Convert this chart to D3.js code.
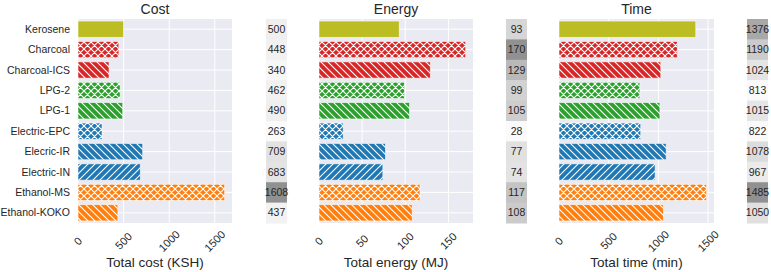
<!DOCTYPE html>
<html>
<head>
<meta charset="utf-8">
<script src="https://cdn.jsdelivr.net/npm/d3@7"></script>
<style>
body { margin: 0; background: #fff; }
text { font-family: "Liberation Sans", Arial, sans-serif; fill: #262626; }
</style>
</head>
<body>
<div id="chart"></div>
<script>
var width = 771;
var height = 272;

// data
var categories = ["Kerosene", "Charcoal", "Charcoal-ICS", "LPG-2", "LPG-1",
    "Electric-EPC", "Elecric-IR", "Electric-IN", "Ethanol-MS", "Ethanol-KOKO"];
var costValues = [500, 448, 340, 462, 490, 263, 709, 683, 1608, 437];
var energyValues = [93, 170, 129, 99, 105, 28, 77, 74, 117, 108];
var timeValues = [1376, 1190, 1024, 813, 1015, 822, 1078, 967, 1485, 1050];
var barColors = ["#bcbd22", "#d62728", "#d62728", "#2ca02c", "#2ca02c",
    "#1f77b4", "#1f77b4", "#1f77b4", "#ff7f0e", "#ff7f0e"];
var hatches = ["", "cross", "back", "cross", "back", "cross", "back", "fwd", "cross", "back"];
var costTicks = [0, 500, 1000, 1500];
var energyTicks = [0, 50, 100, 150];
var timeTicks = [0, 500, 1000, 1500];

var panels = [
    {title: "Cost", label: "Total cost (KSH)", values: costValues, ticks: costTicks, x0: 78, x1: 232, hx: 266},
    {title: "Energy", label: "Total energy (MJ)", values: energyValues, ticks: energyTicks, x0: 319, x1: 473, hx: 506},
    {title: "Time", label: "Total time (min)", values: timeValues, ticks: timeTicks, x0: 559, x1: 714, hx: 747}
];
var plotTop = 19, plotBottom = 223, heatW = 21;

var svg = d3.select("#chart").append("svg")
    .attr("width", width)
    .attr("height", height);

// hatch patterns (white lines over the bar colour)
var defs = svg.append("defs");
var hatchPaths = {
    back: "M0,0L7,7M-1,6L1,8M6,-1L8,1",
    fwd: "M0,7L7,0M-1,1L1,-1M6,8L8,6",
    cross: "M0,0L7,7M-1,6L1,8M6,-1L8,1M0,7L7,0M-1,1L1,-1M6,8L8,6"
};
Object.keys(hatchPaths).forEach(function(k) {
    defs.append("pattern")
        .attr("id", "h-" + k)
        .attr("patternUnits", "userSpaceOnUse")
        .attr("width", 7).attr("height", 7)
        .append("path")
        .attr("d", hatchPaths[k])
        .attr("stroke", "#fff")
        .attr("stroke-width", 1.1)
        .attr("fill", "none");
});

var y = d3.scaleBand()
    .domain(categories)
    .range([plotTop, plotBottom])
    .paddingInner(0.2)
    .paddingOuter(0.1);

var yCell = d3.scaleBand()
    .domain(categories)
    .range([plotTop, plotBottom]);

panels.forEach(function(p, pi) {
    var x = d3.scaleLinear()
        .domain([0, d3.max(p.values) * 1.05])
        .range([p.x0, p.x1]);

    var g = svg.append("g");

    // background
    g.append("rect")
        .attr("x", p.x0).attr("y", plotTop)
        .attr("width", p.x1 - p.x0).attr("height", plotBottom - plotTop)
        .attr("fill", "#eaeaf2");

    // grid
    g.selectAll(".vgrid").data(p.ticks).enter().append("line")
        .attr("x1", function(d) { return x(d); })
        .attr("x2", function(d) { return x(d); })
        .attr("y1", plotTop).attr("y2", plotBottom)
        .attr("stroke", "#fff").attr("stroke-width", 1);
    g.selectAll(".hgrid").data(categories).enter().append("line")
        .attr("x1", p.x0).attr("x2", p.x1)
        .attr("y1", function(d) { return y(d) + y.bandwidth() / 2; })
        .attr("y2", function(d) { return y(d) + y.bandwidth() / 2; })
        .attr("stroke", "#fff").attr("stroke-width", 1);

    // bars
    g.selectAll(".bar").data(p.values).enter().append("rect")
        .attr("x", x(0))
        .attr("y", function(d, i) { return y(categories[i]); })
        .attr("width", function(d) { return x(d) - x(0); })
        .attr("height", y.bandwidth())
        .attr("fill", function(d, i) { return barColors[i]; });
    g.selectAll(".hatch").data(p.values).enter().append("rect")
        .attr("x", x(0))
        .attr("y", function(d, i) { return y(categories[i]); })
        .attr("width", function(d) { return x(d) - x(0); })
        .attr("height", y.bandwidth())
        .attr("fill", function(d, i) { return hatches[i] ? "url(#h-" + hatches[i] + ")" : "none"; })
        .attr("stroke", "#fff")
        .attr("stroke-opacity", 0.7)
        .attr("stroke-width", 0.8);

    // y labels only on the first panel
    if (pi === 0) {
        g.selectAll(".ylab").data(categories).enter().append("text")
            .attr("x", p.x0 - 8)
            .attr("y", function(d) { return y(d) + y.bandwidth() / 2; })
            .attr("dy", "0.35em")
            .attr("text-anchor", "end")
            .attr("font-size", 10.5)
            .text(function(d) { return d; });
    }

    // x tick labels, rotated
    g.selectAll(".xlab").data(p.ticks).enter().append("text")
        .attr("transform", function(d) { return "translate(" + x(d) + ",241) rotate(-45)"; })
        .attr("text-anchor", "middle")
        .attr("dy", "0.35em")
        .attr("font-size", 11)
        .text(function(d) { return d; });

    // titles
    g.append("text")
        .attr("x", (p.x0 + p.x1) / 2).attr("y", 14)
        .attr("text-anchor", "middle")
        .attr("font-size", 14)
        .text(p.title);
    g.append("text")
        .attr("x", (p.x0 + p.x1) / 2).attr("y", 267)
        .attr("text-anchor", "middle")
        .attr("font-size", 13.5)
        .text(p.label);

    // value column as a grey heat strip
    var shade = d3.scaleLinear()
        .domain(d3.extent(p.values))
        .range([0.04, 0.52]);
    g.selectAll(".cell").data(p.values).enter().append("rect")
        .attr("x", p.hx)
        .attr("y", function(d, i) { return yCell(categories[i]); })
        .attr("width", heatW)
        .attr("height", yCell.bandwidth() + 0.5)
        .attr("fill", function(d) { return d3.interpolateGreys(shade(d)); });
    g.selectAll(".cellText").data(p.values).enter().append("text")
        .attr("x", p.hx + heatW / 2)
        .attr("y", function(d, i) { return yCell(categories[i]) + yCell.bandwidth() / 2; })
        .attr("dy", "0.35em")
        .attr("text-anchor", "middle")
        .attr("font-size", 10.5)
        .text(function(d) { return d; });
});
</script>
</body>
</html>
